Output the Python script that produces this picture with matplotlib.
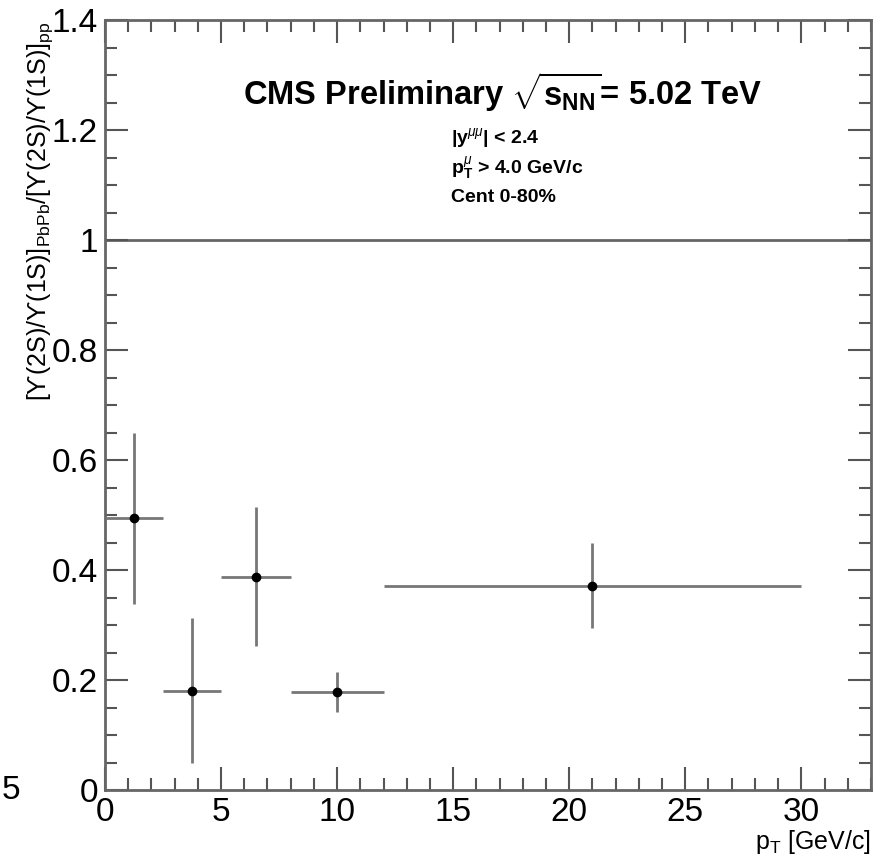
import numpy as np
import matplotlib
matplotlib.use("Agg")
import matplotlib.pyplot as plt
from matplotlib.ticker import MultipleLocator

# ================================================================================
# fonts (ROOT-ish look, Helvetica -> Liberation Sans)
plt.rcParams['font.family'] = ['Liberation Sans', 'DejaVu Sans']
plt.rcParams['mathtext.fontset'] = 'custom'
plt.rcParams['mathtext.rm'] = 'Liberation Sans'
plt.rcParams['mathtext.it'] = 'Liberation Sans:italic'
plt.rcParams['mathtext.bf'] = 'Liberation Sans:bold'

# ================================================================================
# data: double ratio vs pT
pt_center = [1.25, 3.75, 6.5, 10.0, 21.0]
pt_low = [0.0, 2.5, 5.0, 8.0, 12.0]
pt_high = [2.5, 5.0, 8.0, 12.0, 30.0]
ratio = [0.494, 0.180, 0.387, 0.178, 0.371]
err_up = [0.155, 0.133, 0.127, 0.036, 0.078]
err_down = [0.156, 0.131, 0.126, 0.037, 0.077]

x_ticks = [0, 5, 10, 15, 20, 25, 30]
x_tick_labels = ["0", "5", "10", "15", "20", "25", "30"]
y_ticks = [0, 0.2, 0.4, 0.6, 0.8, 1.0, 1.2, 1.4]
y_tick_labels = ["0", "0.2", "0.4", "0.6", "0.8", "1", "1.2", "1.4"]

# ================================================================================
pt_center = np.array(pt_center)
xerr = [pt_center - np.array(pt_low), np.array(pt_high) - pt_center]
yerr = [err_down, err_up]

fig = plt.figure(figsize=(8.89, 8.59), dpi=100)
ax = fig.add_axes([0.1181, 0.0803, 0.8616, 0.8964])

ax.axhline(1.0, color="#666666", lw=2.0, zorder=1)
ax.errorbar(pt_center, ratio, xerr=xerr, yerr=yerr, fmt="o", ms=6,
            color="black", ecolor="#777777", elinewidth=2.0, capsize=0, zorder=3)

ax.set_xlim(0, 33)
ax.set_ylim(0, 1.4)
ax.set_xticks(x_ticks, x_tick_labels)
ax.set_yticks(y_ticks, y_tick_labels)
ax.xaxis.set_minor_locator(MultipleLocator(1))
ax.yaxis.set_minor_locator(MultipleLocator(0.05))

ax.tick_params(which="both", direction="in", top=True, right=True, color="#555555", width=1.5)
ax.tick_params(which="major", length=16.5, labelsize=24, pad=5)
ax.tick_params(which="minor", length=8.5)
for sp in ax.spines.values():
  sp.set_color("#666666")
  sp.set_linewidth(2.0)

# ================================================================================
# labels
ax.set_xlabel(r"p$_{\mathrm{T}}$ [GeV/c]", fontsize=18, loc="right", labelpad=0)
fig.text(0.045, 0.975,
         r"[ϒ(2S)/ϒ(1S)]$_{\mathrm{PbPb}}$/[ϒ(2S)/ϒ(1S)]$_{\mathrm{pp}}$",
         rotation=90, ha="center", va="top", fontsize=18)

ax.text(5.95, 1.269, r"CMS Preliminary $\sqrt{\mathbf{s}_{\mathbf{NN}}}$= 5.02 TeV",
        fontsize=23.5, fontweight="bold", ha="left", va="center")
ax.text(14.9, 1.185, r"|y$^{\mu\mu}$| < 2.4", fontsize=14, fontweight="bold", ha="left", va="center")
ax.text(14.9, 1.131, r"p$_{\mathbf{T}}^{\mu}$ > 4.0 GeV/c", fontsize=14, fontweight="bold", ha="left", va="center")
ax.text(14.9, 1.078, "Cent 0-80%", fontsize=14, fontweight="bold", ha="left", va="center")

# fragment of the neighbouring panel's tick label
fig.text(0.012, 0.080, "5", fontsize=24, ha="center", va="center")

plt.savefig("out.png", dpi=100)
